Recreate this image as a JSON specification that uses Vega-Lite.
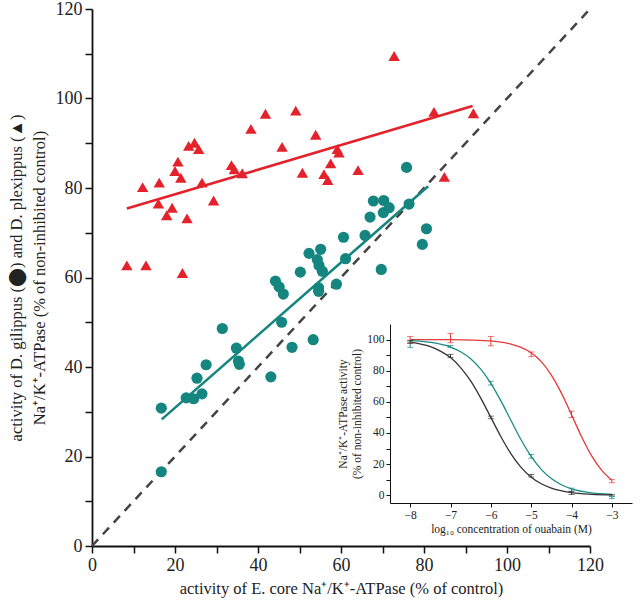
{
  "$schema": "https://vega.github.io/schema/vega-lite/v6.json",
  "width": 498,
  "height": 537,
  "autosize": {"type": "none"},
  "padding": {"left": 92, "top": 9, "right": 54, "bottom": 58},
  "background": "white",
  "config": {
    "view": {"stroke": null},
    "font": "Liberation Serif",
    "axis": {"labelFont": "Liberation Serif", "titleFont": "Liberation Serif", "labelColor": "#222", "titleColor": "#222", "titleFontWeight": "normal", "grid": false, "domainColor": "#111", "tickColor": "#111"}
  },
  "datasets": {
    "teal": [
      {"x": 16.7, "y": 30.8}, {"x": 16.7, "y": 16.6}, {"x": 22.7, "y": 33.1}, {"x": 24.5, "y": 32.9},
      {"x": 26.5, "y": 34.0}, {"x": 25.3, "y": 37.5}, {"x": 27.5, "y": 40.5}, {"x": 31.4, "y": 48.6},
      {"x": 34.8, "y": 44.2}, {"x": 35.3, "y": 41.3}, {"x": 35.5, "y": 40.6}, {"x": 43.1, "y": 37.8},
      {"x": 45.7, "y": 50.0}, {"x": 48.2, "y": 44.4}, {"x": 53.3, "y": 46.1}, {"x": 44.2, "y": 59.2},
      {"x": 45.1, "y": 57.9}, {"x": 46.1, "y": 56.3}, {"x": 50.2, "y": 61.2}, {"x": 52.3, "y": 65.4},
      {"x": 55.1, "y": 66.3}, {"x": 54.3, "y": 64.0}, {"x": 54.7, "y": 62.7}, {"x": 55.5, "y": 61.4},
      {"x": 54.6, "y": 57.7}, {"x": 54.6, "y": 56.9}, {"x": 58.9, "y": 58.5}, {"x": 61.1, "y": 64.2},
      {"x": 60.6, "y": 69.0}, {"x": 65.8, "y": 69.4}, {"x": 67.0, "y": 73.5}, {"x": 69.7, "y": 61.8},
      {"x": 76.4, "y": 76.4}, {"x": 79.6, "y": 67.4}, {"x": 80.6, "y": 70.9}, {"x": 67.8, "y": 77.1},
      {"x": 70.3, "y": 77.2}, {"x": 70.2, "y": 74.5}, {"x": 71.6, "y": 75.6}, {"x": 75.8, "y": 84.6}
    ],
    "red": [
      {"x": 8.4, "y": 62.7}, {"x": 13.0, "y": 62.7}, {"x": 21.8, "y": 61.0}, {"x": 12.2, "y": 80.2},
      {"x": 16.2, "y": 81.2}, {"x": 16.0, "y": 76.5}, {"x": 19.3, "y": 75.6}, {"x": 18.0, "y": 73.9},
      {"x": 22.9, "y": 73.2}, {"x": 29.3, "y": 77.2}, {"x": 20.0, "y": 83.8}, {"x": 20.7, "y": 85.9},
      {"x": 21.4, "y": 82.3}, {"x": 23.3, "y": 89.4}, {"x": 24.7, "y": 90.1}, {"x": 25.7, "y": 88.7},
      {"x": 26.5, "y": 81.2}, {"x": 33.6, "y": 85.1}, {"x": 34.3, "y": 84.2}, {"x": 36.2, "y": 83.3},
      {"x": 38.3, "y": 93.2}, {"x": 45.8, "y": 89.2}, {"x": 41.8, "y": 96.6}, {"x": 49.1, "y": 97.3},
      {"x": 53.9, "y": 91.9}, {"x": 59.1, "y": 88.7}, {"x": 59.5, "y": 87.9}, {"x": 57.5, "y": 85.5},
      {"x": 50.7, "y": 83.4}, {"x": 55.9, "y": 83.1}, {"x": 56.8, "y": 81.8}, {"x": 64.1, "y": 84.0},
      {"x": 72.8, "y": 109.5}, {"x": 82.4, "y": 97.0}, {"x": 91.9, "y": 96.7}, {"x": 84.9, "y": 82.5}
    ],
    "tealfit": [{"x": 16.8, "y": 28.3}, {"x": 81.0, "y": 80.4}],
    "redfit": [{"x": 8.4, "y": 75.4}, {"x": 91.7, "y": 98.3}],
    "diag": [{"x": 0, "y": 0}, {"x": 120, "y": 120}],
    "curves": [
      {"sp": "plexippus", "logc": -8, "act": 100.0}, {"sp": "plexippus", "logc": -7, "act": 99.9},
      {"sp": "plexippus", "logc": -6.5, "act": 99.7}, {"sp": "plexippus", "logc": -6, "act": 99.1},
      {"sp": "plexippus", "logc": -5.75, "act": 98.4}, {"sp": "plexippus", "logc": -5.5, "act": 97.1},
      {"sp": "plexippus", "logc": -5.25, "act": 95.0}, {"sp": "plexippus", "logc": -5, "act": 91.5},
      {"sp": "plexippus", "logc": -4.75, "act": 85.8}, {"sp": "plexippus", "logc": -4.5, "act": 77.2},
      {"sp": "plexippus", "logc": -4.25, "act": 65.6}, {"sp": "plexippus", "logc": -4, "act": 51.7},
      {"sp": "plexippus", "logc": -3.75, "act": 37.6}, {"sp": "plexippus", "logc": -3.5, "act": 25.3},
      {"sp": "plexippus", "logc": -3.25, "act": 16.0}, {"sp": "plexippus", "logc": -3, "act": 9.7},
      {"sp": "gilippus", "logc": -8, "act": 99.3}, {"sp": "gilippus", "logc": -7.5, "act": 98.2},
      {"sp": "gilippus", "logc": -7, "act": 95.2}, {"sp": "gilippus", "logc": -6.75, "act": 92.2},
      {"sp": "gilippus", "logc": -6.5, "act": 87.7}, {"sp": "gilippus", "logc": -6.25, "act": 81.0},
      {"sp": "gilippus", "logc": -6, "act": 71.9}, {"sp": "gilippus", "logc": -5.75, "act": 60.6},
      {"sp": "gilippus", "logc": -5.5, "act": 48.0}, {"sp": "gilippus", "logc": -5.25, "act": 35.6},
      {"sp": "gilippus", "logc": -5, "act": 24.9}, {"sp": "gilippus", "logc": -4.75, "act": 16.6},
      {"sp": "gilippus", "logc": -4.5, "act": 10.7}, {"sp": "gilippus", "logc": -4.25, "act": 6.7},
      {"sp": "gilippus", "logc": -4, "act": 4.1}, {"sp": "gilippus", "logc": -3.5, "act": 1.5},
      {"sp": "gilippus", "logc": -3, "act": 0.6},
      {"sp": "core", "logc": -8, "act": 98.3}, {"sp": "core", "logc": -7.5, "act": 95.4},
      {"sp": "core", "logc": -7.25, "act": 92.6}, {"sp": "core", "logc": -7, "act": 88.4},
      {"sp": "core", "logc": -6.75, "act": 82.0}, {"sp": "core", "logc": -6.5, "act": 73.4},
      {"sp": "core", "logc": -6.25, "act": 62.4}, {"sp": "core", "logc": -6, "act": 50.0},
      {"sp": "core", "logc": -5.75, "act": 37.6}, {"sp": "core", "logc": -5.5, "act": 26.6},
      {"sp": "core", "logc": -5.25, "act": 17.9}, {"sp": "core", "logc": -5, "act": 11.6},
      {"sp": "core", "logc": -4.75, "act": 7.4}, {"sp": "core", "logc": -4.5, "act": 4.6},
      {"sp": "core", "logc": -4, "act": 1.7}, {"sp": "core", "logc": -3.5, "act": 0.6},
      {"sp": "core", "logc": -3, "act": 0.2}
    ],
    "errs": [
      {"sp": "plexippus", "logc": -8, "lo": 98, "hi": 102}, {"sp": "plexippus", "logc": -7, "lo": 98, "hi": 104},
      {"sp": "plexippus", "logc": -6, "lo": 96, "hi": 102}, {"sp": "plexippus", "logc": -5, "lo": 89, "hi": 92},
      {"sp": "plexippus", "logc": -4, "lo": 50, "hi": 54}, {"sp": "plexippus", "logc": -3, "lo": 8, "hi": 10},
      {"sp": "gilippus", "logc": -8, "lo": 95, "hi": 99}, {"sp": "gilippus", "logc": -7, "lo": 94.8, "hi": 96.2},
      {"sp": "gilippus", "logc": -6, "lo": 70.8, "hi": 73.2}, {"sp": "gilippus", "logc": -5, "lo": 23.8, "hi": 26.2},
      {"sp": "gilippus", "logc": -4, "lo": 2.5, "hi": 4.5}, {"sp": "gilippus", "logc": -3, "lo": -2.2, "hi": -0.8},
      {"sp": "core", "logc": -8, "lo": 97.5, "hi": 99.5}, {"sp": "core", "logc": -7, "lo": 88.5, "hi": 90.5},
      {"sp": "core", "logc": -6, "lo": 49.2, "hi": 50.8}, {"sp": "core", "logc": -5, "lo": 11.7, "hi": 13.3},
      {"sp": "core", "logc": -4, "lo": 0.5, "hi": 2.5}, {"sp": "core", "logc": -3, "lo": -0.5, "hi": 0.5}
    ]
  },
  "layer": [
    {
      "encoding": {
        "x": {"field": "x", "type": "quantitative", "scale": {"domain": [0, 120], "nice": false},
          "axis": {"title": "activity of E. core Na⁺/K⁺-ATPase (% of control)", "values": [0, 10, 20, 30, 40, 50, 60, 70, 80, 90, 100, 110, 120],
            "labelExpr": "datum.value % 20 == 0 ? datum.label : ''", "labelFontSize": 18, "titleFontSize": 16.5, "tickSize": 7, "tickWidth": 1.5, "domainWidth": 1.8, "labelPadding": 3, "titlePadding": 6, "labelFlush": false}},
        "y": {"field": "y", "type": "quantitative", "scale": {"domain": [0, 120], "nice": false},
          "axis": {"title": ["activity of D. gilippus (⬤) and D. plexippus (▲)", "Na⁺/K⁺-ATPase (% of non-inhibited control)"], "values": [0, 10, 20, 30, 40, 50, 60, 70, 80, 90, 100, 110, 120],
            "labelExpr": "datum.value % 20 == 0 ? datum.label : ''", "labelFontSize": 18, "titleFontSize": 16.5, "titleLineHeight": 23, "tickSize": 7, "tickWidth": 1.5, "domainWidth": 1.8, "labelPadding": 3, "titlePadding": 8, "labelFlush": false}}
      },
      "layer": [
        {"data": {"name": "diag"}, "mark": {"type": "line", "color": "#444", "strokeWidth": 2.5, "strokeDash": [9, 7]}},
        {"data": {"name": "redfit"}, "mark": {"type": "line", "color": "#E3222B", "strokeWidth": 2.6}},
        {"data": {"name": "tealfit"}, "mark": {"type": "line", "color": "#14857F", "strokeWidth": 2.6}},
        {"data": {"name": "red"}, "mark": {"type": "point", "shape": "triangle-up", "filled": true, "color": "#E3222B", "opacity": 1, "size": 130}},
        {"data": {"name": "teal"}, "mark": {"type": "point", "shape": "circle", "filled": true, "color": "#14857F", "opacity": 1, "size": 125}}
      ]
    },
    {
      "encoding": {
        "x": {"field": "logc", "type": "quantitative", "scale": {"domain": [-8.5, -2.5], "range": [298, 540], "nice": false, "zero": false},
          "axis": {"orient": "bottom", "offset": -43, "title": "log₁₀ concentration of ouabain (M)", "values": [-8, -7.5, -7, -6.5, -6, -5.5, -5, -4.5, -4, -3.5, -3], "format": "d",
            "labelExpr": "datum.value % 1 == 0 ? datum.label : ''", "labelFontSize": 11.5, "titleFontSize": 11.5, "tickSize": 4, "tickWidth": 1, "domainWidth": 1, "labelPadding": 2, "titlePadding": 3, "labelFlush": false}},
        "y": {"type": "quantitative", "scale": {"domain": [-5, 110], "range": [494, 315], "nice": false, "zero": false},
          "axis": {"orient": "left", "offset": -298, "title": ["Na⁺/K⁺-ATPase activity", "(% of non-inhibited control)"], "values": [0, 10, 20, 30, 40, 50, 60, 70, 80, 90, 100],
            "labelExpr": "datum.value % 20 == 0 ? datum.label : ''", "labelFontSize": 11.5, "titleFontSize": 11.5, "titleLineHeight": 14, "tickSize": 4, "tickWidth": 1, "domainWidth": 1, "labelPadding": 2, "titlePadding": 4, "labelFlush": false}},
        "color": {"field": "sp", "type": "nominal", "legend": null,
          "scale": {"domain": ["plexippus", "gilippus", "core"], "range": ["#E33A3A", "#1A8C84", "#333333"]}}
      },
      "layer": [
        {"data": {"name": "curves"}, "mark": {"type": "line", "strokeWidth": 1.3, "interpolate": "monotone"},
          "encoding": {"y": {"field": "act", "type": "quantitative"}}},
        {"data": {"name": "errs"}, "mark": {"type": "rule", "strokeWidth": 1},
          "encoding": {"y": {"field": "lo", "type": "quantitative"}, "y2": {"field": "hi"}}},
        {"data": {"name": "errs"}, "mark": {"type": "tick", "orient": "horizontal", "size": 6, "thickness": 1},
          "encoding": {"y": {"field": "lo", "type": "quantitative"}}},
        {"data": {"name": "errs"}, "mark": {"type": "tick", "orient": "horizontal", "size": 6, "thickness": 1},
          "encoding": {"y": {"field": "hi", "type": "quantitative"}}}
      ]
    }
  ],
  "resolve": {"scale": {"x": "independent", "y": "independent", "color": "independent"}, "axis": {"x": "independent", "y": "independent"}}
}
